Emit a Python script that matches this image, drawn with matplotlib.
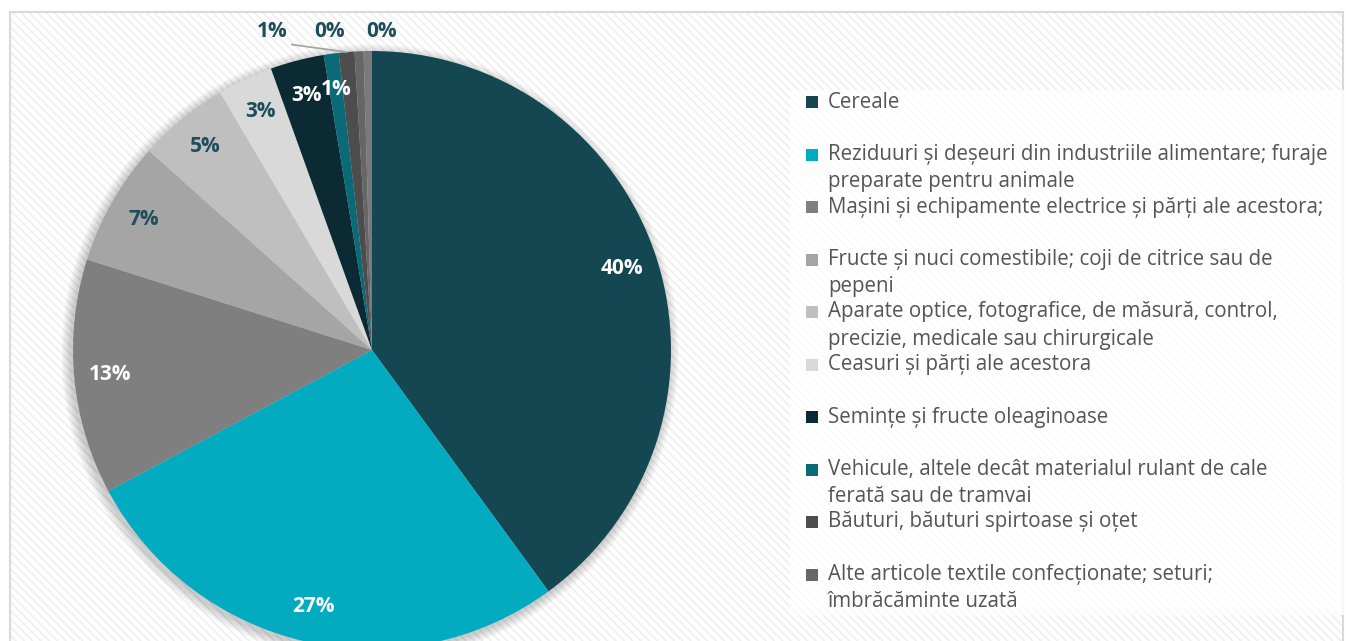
import numpy as np
import matplotlib
matplotlib.use('Agg')
import matplotlib.pyplot as plt
from matplotlib.patches import Rectangle, Circle

plt.rcParams['font.family'] = ['Open Sans', 'DejaVu Sans']
plt.rcParams['hatch.linewidth'] = 1.2

# data (share of exports, %)
categories = [
    "Cereale",
    "Reziduuri și deșeuri din industriile alimentare; furaje\npreparate pentru animale",
    "Mașini și echipamente electrice și părți ale acestora;",
    "Fructe și nuci comestibile; coji de citrice sau de\npepeni",
    "Aparate optice, fotografice, de măsură, control,\nprecizie, medicale sau chirurgicale",
    "Ceasuri și părți ale acestora",
    "Semințe și fructe oleaginoase",
    "Vehicule, altele decât materialul rulant de cale\nferată sau de tramvai",
    "Băuturi, băuturi spirtoase și oțet",
    "Alte articole textile confecționate; seturi;\nîmbrăcăminte uzată",
    "Altele",
]
shares = [39.9, 27.2, 12.7, 6.7, 4.9, 3.0, 2.9, 0.8, 0.85, 0.48, 0.45]
colors = ['#154753', '#03abc0', '#7f7f7f', '#a5a5a5', '#bfbfbf', '#d9d9d9',
          '#0b2a33', '#0b6a77', '#4d4d4d', '#666666', '#7a7a7a']
legend_count = 10  # the last entry is cut off in the original

W, H = 1346, 641
dark_lbl = '#1f4e5a'


def Y(py):
    return H - py


fig = plt.figure(figsize=(W / 100, H / 100), dpi=100)
ax = fig.add_axes([0, 0, 1, 1])

# striped background + frame
ax.add_patch(Rectangle((10, -10), W - 13, Y(12) + 10, facecolor='white',
                       edgecolor='#efefef', hatch='\\\\\\\\', lw=0, zorder=0))
ax.add_patch(Rectangle((10, -10), W - 13, Y(12) + 10, fill=False,
                       edgecolor='#d9d9d9', lw=1.5, zorder=1))
# legend box
ax.add_patch(Rectangle((790, Y(615)), W - 790, 525, facecolor='white',
                       alpha=0.8, lw=0, zorder=1))

cx, cy, R = 372, Y(350), 299

# soft shadow under the pie
for k in range(10):
    ax.add_patch(Circle((cx - 2, cy - 3), R + 10 - k, color='black',
                        alpha=0.02, lw=0, zorder=2))

wedges, _ = ax.pie(shares, colors=colors, startangle=90, counterclock=False,
                   center=(cx, cy), radius=R, wedgeprops=dict(linewidth=0))

total = sum(shares)
outside_dx = [-100, -42, 10]
for i, w in enumerate(wedges):
    w.set_zorder(3)
    pct = f"{round(shares[i] / total * 100)}%"
    mid = np.deg2rad((w.theta1 + w.theta2) / 2)
    if i < 8:
        x = cx + 0.88 * R * np.cos(mid)
        y = cy + 0.88 * R * np.sin(mid)
        col = dark_lbl if i in (3, 4, 5) else 'white'
        ax.text(x, y, pct, ha='center', va='center', fontsize=15,
                fontweight='bold', color=col, zorder=5)
    else:
        j = i - 8
        x = cx + outside_dx[j]
        y = cy + 1.065 * R
        ax.text(x, y, pct, ha='center', va='center', fontsize=15,
                fontweight='bold', color=dark_lbl, zorder=5)
        if j == 0:
            ex = cx + R * np.cos(mid)
            ey = cy + R * np.sin(mid)
            ax.plot([x + 20, ex], [y - 13, ey], color='#a6a6a6', lw=1.3, zorder=4)

# legend drawn by hand so the wrapping matches
for i in range(legend_count):
    yy = Y(102 + i * 52.5)
    ax.add_patch(Rectangle((806, yy - 6), 12, 12, facecolor=colors[i], lw=0, zorder=5))
    for k, line in enumerate(categories[i].split('\n')):
        ax.text(828, yy - k * 27, line, ha='left', va='center', fontsize=14.8,
                color='#555555', zorder=5)

ax.set_xlim(0, W)
ax.set_ylim(0, H)
ax.axis('off')

fig.savefig('out.png', dpi=100)
